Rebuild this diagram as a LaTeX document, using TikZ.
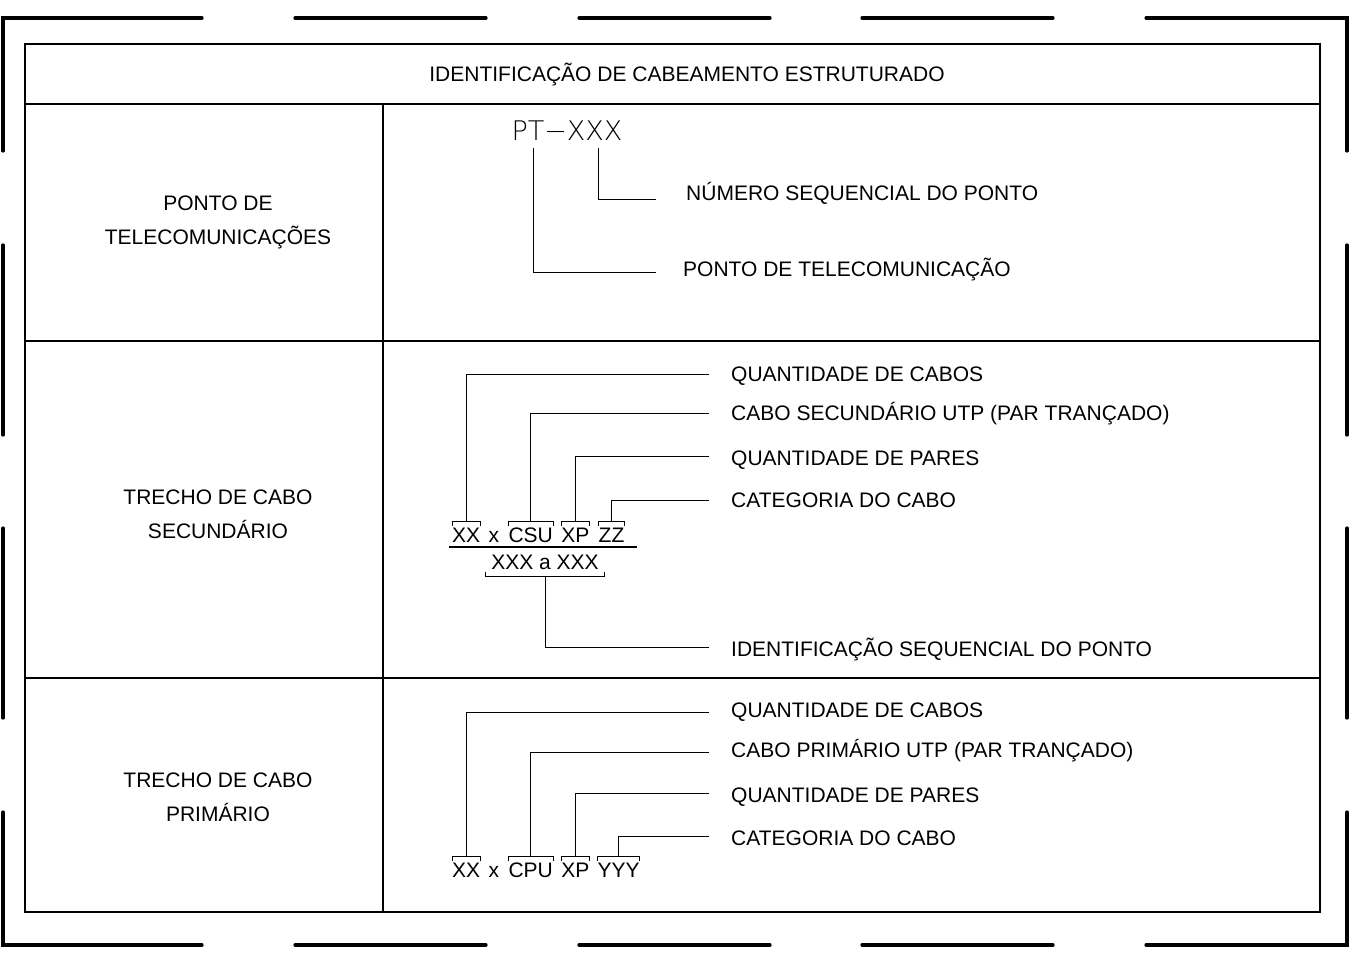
\documentclass[tikz,border=0pt]{standalone}
\usepackage{fontspec}
\setmainfont{Liberation Sans}
\newfontfamily\finafont{DejaVu Sans ExtraLight}
\usetikzlibrary{positioning}

% colchetes sobre e sob as siglas
\newcommand{\colchete}[1]{\draw [guia] ([yshift=1pt]#1.north west) -- ++(0,-4) -| ([yshift=1pt]#1.north east);}
\newcommand{\colcheteInf}[1]{\draw [guia] ([yshift=-3pt]#1.south west) -- ++(0,4) -| ([yshift=-3pt]#1.south east);}

\begin{document}
\begin{tikzpicture}[x=1pt, y=-1pt, node distance=22pt, font=\fontsize{21}{34}\selectfont]
        % Estilos
        \tikzstyle{moldura} = [line width=3.2pt, line cap=round]
        \tikzstyle{tabela} = [line width=1.9pt]
        \tikzstyle{guia} = [line width=1pt]
        \tikzstyle{texto} = [inner sep=0pt, text height=15pt, text depth=0pt]
        \tikzstyle{titulo} = [inner sep=0pt, align=center]
        \tikzstyle{sigla} = [inner sep=0pt, font=\finafont\fontsize{27}{30}\selectfont, text=black]

        \useasboundingbox (0,0) rectangle (1351,955);

        % Moldura tracejada
        \draw [moldura] (3,151) -- (3,18) -- (202,18);
        \draw [moldura] (1146,18) -- (1347,18) -- (1347,151);
        \draw [moldura] (3,812) -- (3,945) -- (202,945);
        \draw [moldura] (1146,945) -- (1347,945) -- (1347,812);
        \foreach \x in {295,579,862} \draw [moldura] (\x,18) -- ++(191,0) (\x,945) -- ++(191,0);
        \foreach \y in {245,528} \draw [moldura] (3,\y) -- ++(0,190) (1347,\y) -- ++(0,190);

        % Tabela
        \draw [tabela] (25,44) rectangle (1320,912);
        \draw [tabela] (25,104) -- (1320,104);
        \draw [tabela] (25,341) -- (1320,341);
        \draw [tabela] (25,678) -- (1320,678);
        \draw [tabela] (383,104) -- (383,912);

        % Nodes
        \node [texto] (cabecalho) at (687,74) {IDENTIFICAÇÃO DE CABEAMENTO ESTRUTURADO};
        \node [titulo] (ponto) at (218,222) {PONTO DE\\TELECOMUNICAÇÕES};
        \node [titulo] (secundario) at (218,514) {TRECHO DE CABO\\SECUNDÁRIO};
        \node [titulo] (primario) at (218,797) {TRECHO DE CABO\\PRIMÁRIO};

        % ponto de telecomunicacoes
        \node [sigla] (pt) at (567,131) {PT−XXX};
        \coordinate (ptT) at (533,148);
        \coordinate (ptX) at (598,148);
        \coordinate (fimNumero) at (656,199);
        \coordinate (fimPonto) at (656,272);
        \node [texto, anchor=west] (labelNumero) at (686,193) {NÚMERO SEQUENCIAL DO PONTO};
        \node [texto, anchor=west] (labelPonto) at (683,269) {PONTO DE TELECOMUNICAÇÃO};

        % cabo secundario
        \node [texto, anchor=base west] (xxSec) at (452,542) {XX};
        \node [texto, right=8pt of xxSec] (xSec) {x};
        \node [texto, right=9pt of xSec] (csu) {CSU};
        \node [texto, right=8pt of csu] (xpSec) {XP};
        \node [texto, right=9pt of xpSec] (zz) {ZZ};
        \node [texto, inner xsep=6pt, anchor=base] (faixa) at (545,569) {XXX a XXX};
        \coordinate (fracaoIni) at (449,547);
        \coordinate (fracaoFim) at (637,547);
        \coordinate (fimCabosSec) at (709,374);
        \coordinate (fimCaboSec) at (709,413);
        \coordinate (fimParesSec) at (709,456);
        \coordinate (fimCategSec) at (709,500);
        \coordinate (fimIdent) at (709,647);
        \node [texto, right=of fimCabosSec] (labelCabosSec) {QUANTIDADE DE CABOS};
        \node [texto, right=of fimCaboSec] (labelCaboSec) {CABO SECUNDÁRIO UTP (PAR TRANÇADO)};
        \node [texto, right=of fimParesSec, yshift=-2pt] (labelParesSec) {QUANTIDADE DE PARES};
        \node [texto, right=of fimCategSec] (labelCategSec) {CATEGORIA DO CABO};
        \node [texto, right=of fimIdent, yshift=-2pt] (labelIdent) {IDENTIFICAÇÃO SEQUENCIAL DO PONTO};

        % cabo primario
        \node [texto, anchor=base west] (xxPri) at (452,877) {XX};
        \node [texto, right=8pt of xxPri] (xPri) {x};
        \node [texto, right=9pt of xPri] (cpu) {CPU};
        \node [texto, right=8pt of cpu] (xpPri) {XP};
        \node [texto, right=8pt of xpPri] (yyy) {YYY};
        \coordinate (fimCabosPri) at (709,712);
        \coordinate (fimCaboPri) at (709,752);
        \coordinate (fimParesPri) at (709,793);
        \coordinate (fimCategPri) at (709,836);
        \node [texto, right=of fimCabosPri, yshift=2pt] (labelCabosPri) {QUANTIDADE DE CABOS};
        \node [texto, right=of fimCaboPri, yshift=2pt] (labelCaboPri) {CABO PRIMÁRIO UTP (PAR TRANÇADO)};
        \node [texto, right=of fimParesPri, yshift=-2pt] (labelParesPri) {QUANTIDADE DE PARES};
        \node [texto, right=of fimCategPri, yshift=-2pt] (labelCategPri) {CATEGORIA DO CABO};

        % Lines
        \draw [guia] (ptX) |- (fimNumero);
        \draw [guia] (ptT) |- (fimPonto);

        \colchete{xxSec} \colchete{csu} \colchete{xpSec} \colchete{zz}
        \colcheteInf{faixa}
        \draw [line width=1.5pt] (fracaoIni) -- (fracaoFim);
        \draw [guia] ([yshift=5pt]xxSec.north) |- (fimCabosSec);
        \draw [guia] ([yshift=5pt]csu.north) |- (fimCaboSec);
        \draw [guia] ([yshift=5pt]xpSec.north) |- (fimParesSec);
        \draw [guia] ([yshift=5pt]zz.north) |- (fimCategSec);
        \draw [guia] ([yshift=-7pt]faixa.south) |- (fimIdent);

        \colchete{xxPri} \colchete{cpu} \colchete{xpPri} \colchete{yyy}
        \draw [guia] ([yshift=5pt]xxPri.north) |- (fimCabosPri);
        \draw [guia] ([yshift=5pt]cpu.north) |- (fimCaboPri);
        \draw [guia] ([yshift=5pt]xpPri.north) |- (fimParesPri);
        \draw [guia] ([yshift=5pt]yyy.north) |- (fimCategPri);

\end{tikzpicture}
\end{document}
